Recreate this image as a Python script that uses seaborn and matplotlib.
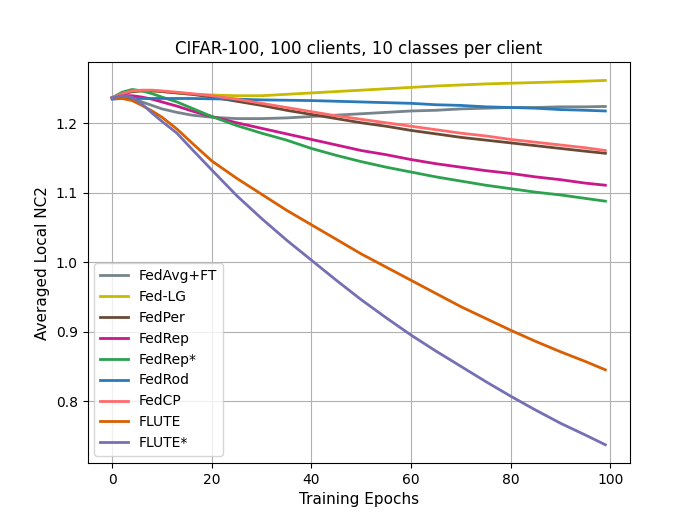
import pandas as pd
import numpy as np
import seaborn as sns
import matplotlib
matplotlib.use("Agg")
import matplotlib.pyplot as plt

epochs = [0, 2, 4, 6, 8, 10, 13, 16, 20, 25, 30, 35, 40, 45, 50, 55, 60, 65, 70, 75, 80, 85, 90, 95, 99]

fedavg_ft = [1.237, 1.240, 1.236, 1.231, 1.226, 1.221, 1.216, 1.212, 1.209, 1.207, 1.207, 1.208, 1.210,
             1.212, 1.214, 1.216, 1.218, 1.219, 1.221, 1.222, 1.223, 1.223, 1.224, 1.224, 1.2245]
fed_lg = [1.237, 1.243, 1.246, 1.247, 1.247, 1.246, 1.244, 1.242, 1.241, 1.240, 1.240, 1.242, 1.244,
          1.246, 1.248, 1.250, 1.252, 1.254, 1.2555, 1.257, 1.258, 1.259, 1.260, 1.261, 1.262]
fedper = [1.237, 1.242, 1.246, 1.247, 1.247, 1.246, 1.244, 1.242, 1.238, 1.232, 1.226, 1.219, 1.213,
          1.207, 1.201, 1.196, 1.190, 1.185, 1.180, 1.176, 1.172, 1.168, 1.164, 1.160, 1.157]
fedrep = [1.237, 1.240, 1.240, 1.238, 1.235, 1.231, 1.225, 1.218, 1.210, 1.201, 1.193, 1.185, 1.177,
          1.169, 1.161, 1.155, 1.148, 1.142, 1.137, 1.132, 1.128, 1.123, 1.119, 1.114, 1.111]
fedrep_star = [1.237, 1.245, 1.249, 1.247, 1.243, 1.238, 1.231, 1.222, 1.210, 1.197, 1.186, 1.176, 1.164,
               1.154, 1.145, 1.137, 1.130, 1.123, 1.117, 1.111, 1.106, 1.101, 1.097, 1.092, 1.088]
fedrod = [1.235, 1.236, 1.236, 1.236, 1.236, 1.236, 1.236, 1.236, 1.2355, 1.235, 1.234, 1.2335, 1.233,
          1.232, 1.231, 1.230, 1.229, 1.227, 1.226, 1.224, 1.223, 1.222, 1.220, 1.219, 1.218]
fedcp = [1.237, 1.243, 1.247, 1.248, 1.248, 1.247, 1.245, 1.243, 1.240, 1.235, 1.229, 1.223, 1.217,
         1.211, 1.206, 1.201, 1.196, 1.191, 1.186, 1.182, 1.177, 1.173, 1.169, 1.165, 1.161]
flute = [1.236, 1.236, 1.233, 1.226, 1.218, 1.209, 1.192, 1.172, 1.146, 1.121, 1.098, 1.075, 1.054,
         1.033, 1.012, 0.993, 0.974, 0.955, 0.936, 0.919, 0.902, 0.886, 0.871, 0.857, 0.845]
flute_star = [1.237, 1.240, 1.238, 1.228, 1.215, 1.203, 1.186, 1.163, 1.133, 1.096, 1.063, 1.032, 1.003,
              0.974, 0.946, 0.920, 0.895, 0.872, 0.850, 0.828, 0.807, 0.787, 0.768, 0.751, 0.737]

methods = ["FedAvg+FT", "Fed-LG", "FedPer", "FedRep", "FedRep*", "FedRod", "FedCP", "FLUTE", "FLUTE*"]
series = [fedavg_ft, fed_lg, fedper, fedrep, fedrep_star, fedrod, fedcp, flute, flute_star]
colors = ["#76848b", "#c8ba00", "#6b4a35", "#c8188a", "#2ca24f", "#2a7ab9", "#ff6b6b", "#d95f02", "#7570b3"]

fig, ax = plt.subplots(figsize=(7, 5.2), dpi=100)

for name, vals, c in zip(methods, series, colors):
    sns.lineplot(x=epochs, y=vals, label=name, color=c, linewidth=2, ax=ax)

ax.grid(True, color="#b0b0b0")
ax.set_title("CIFAR-100, 100 clients, 10 classes per client")
ax.set_xlabel("Training Epochs", fontsize=11)
ax.set_ylabel("Averaged Local NC2", fontsize=11)
ax.set_xticks([0, 20, 40, 60, 80, 100])
ax.set_yticks([0.8, 0.9, 1.0, 1.1, 1.2])
ax.set_xlim(-4.95, 103.95)
ax.set_ylim(0.711, 1.288)
ax.legend(loc="lower left")

plt.savefig("out.png")
